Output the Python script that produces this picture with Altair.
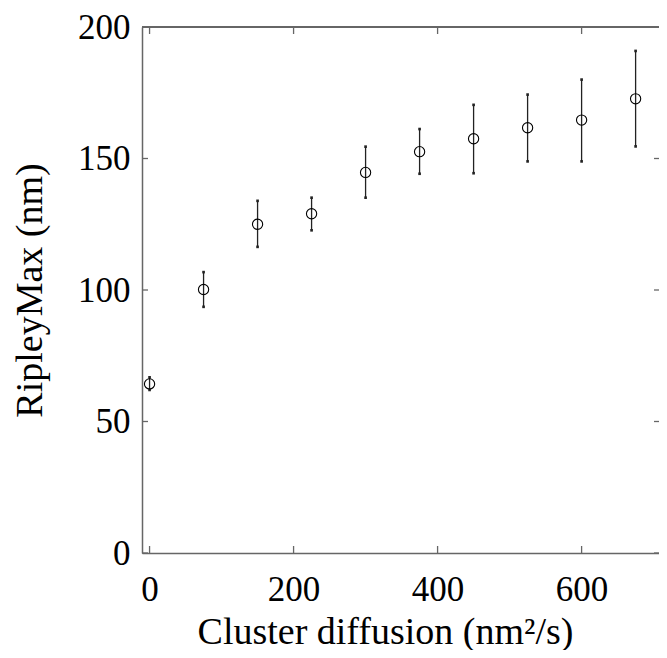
import altair as alt
import pandas as pd

# ---- data ----
diffusion = [0, 75, 150, 225, 300, 375, 450, 525, 600, 675]
ripley_max = [64.3, 100.2, 125.0, 129.0, 144.7, 152.6, 157.5, 161.7, 164.6, 172.7]
err_low = [62.0, 93.6, 116.4, 122.7, 135.1, 144.2, 144.4, 148.9, 148.9, 154.6]
err_high = [66.8, 106.8, 133.9, 135.1, 154.5, 161.2, 170.4, 174.3, 180.0, 190.9]
x_tick_values = [0, 200, 400, 600]
y_tick_values = [0, 50, 100, 150, 200]

W, H = 525, 526
CLIP = 8  # part of the plot that lies beyond the right edge of the picture
FONT = "Liberation Serif"
AX = "#666666"

df = pd.DataFrame({"x": diffusion, "y": ripley_max, "lo": err_low, "hi": err_high})
xt = pd.DataFrame({"x": x_tick_values})
yt = pd.DataFrame({"y": y_tick_values})

xs = alt.Scale(domain=[-10.5, 718.6], nice=False, zero=False)
ys = alt.Scale(domain=[0, 200], nice=False)

xaxis = alt.Axis(values=x_tick_values, ticks=False, domain=True, domainColor=AX, domainWidth=1.5,
                 grid=False,
                 labelFont=FONT, labelFontSize=35, labelColor="black", labelPadding=19,
                 title="Cluster diffusion (nm²/s)", titleFont=FONT, titleFontSize=38,
                 titleFontWeight="normal", titleColor="black",
                 titleX=243, titleY=90, titleBaseline="alphabetic", titleAlign="center")
yaxis = alt.Axis(values=y_tick_values, ticks=False, domain=True, domainColor=AX, domainWidth=1.5,
                 grid=False,
                 labelFont=FONT, labelFontSize=35, labelColor="black", labelPadding=12,
                 title="RipleyMax (nm)", titleFont=FONT, titleFontSize=38,
                 titleFontWeight="normal", titleColor="black", titlePadding=28)

X = alt.X("x:Q", scale=xs, axis=xaxis)
Y = alt.Y("y:Q", scale=ys, axis=yaxis)

bars = alt.Chart(df).mark_rule(color="#222222", strokeWidth=1.3).encode(
    x=X, y=alt.Y("lo:Q", scale=ys, axis=yaxis), y2="hi:Q")
cap_lo = alt.Chart(df).mark_point(shape="square", filled=True, size=7, color="#222222", opacity=1).encode(
    x=X, y=alt.Y("lo:Q", scale=ys, axis=yaxis))
cap_hi = alt.Chart(df).mark_point(shape="square", filled=True, size=7, color="#222222", opacity=1).encode(
    x=X, y=alt.Y("hi:Q", scale=ys, axis=yaxis))
pts = alt.Chart(df).mark_point(shape="circle", filled=False, size=105, color="black",
                               strokeWidth=1.1, opacity=1).encode(x=X, y=Y)

tick_style = dict(color=AX, strokeWidth=1.3)
bt = alt.Chart(xt).mark_rule(**tick_style).encode(x=X, y=alt.value(H), y2=alt.value(H - 7))
tt = alt.Chart(xt).mark_rule(**tick_style).encode(x=X, y=alt.value(0), y2=alt.value(7))
lt = alt.Chart(yt).mark_rule(**tick_style).encode(y=Y, x=alt.value(0), x2=alt.value(6))
rt = alt.Chart(yt).mark_rule(**tick_style).encode(y=Y, x=alt.value(W - CLIP - 5), x2=alt.value(W - CLIP))
top_line = alt.Chart(xt).mark_rule(color=AX, strokeWidth=1.5).encode(
    x=alt.value(0), x2=alt.value(W), y=alt.value(0))

chart = alt.layer(top_line, bt, tt, lt, rt, bars, cap_lo, cap_hi, pts).properties(
    width=W, height=H,
    autosize=alt.AutoSizeParams(type="none"),
    padding={"left": 134, "top": 19, "right": -CLIP, "bottom": 97},
).configure_view(strokeWidth=0).configure(background="white")

chart.save("out.html", embed_options={"renderer": "svg", "actions": False})
